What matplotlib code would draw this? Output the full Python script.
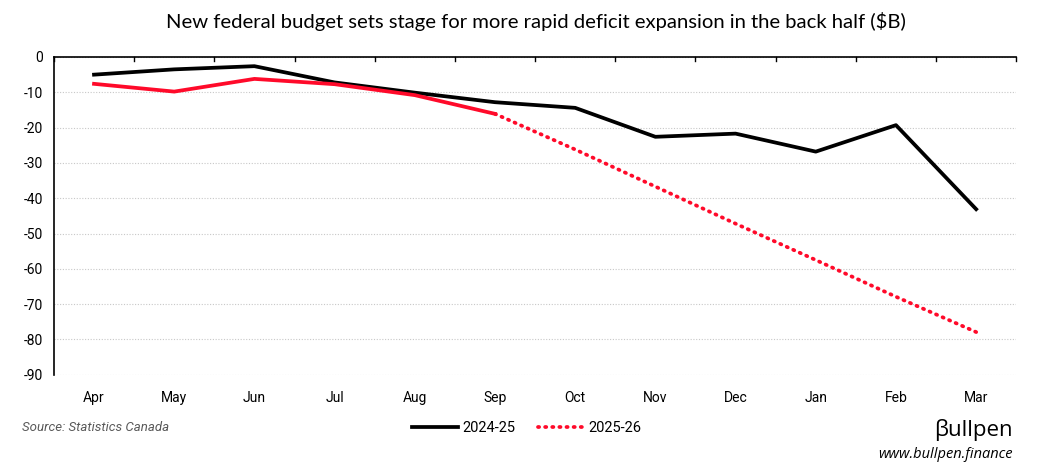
import matplotlib.pyplot as plt

# ==============================
# Data ($B, monthly budget balance)
# ==============================
months = ["Apr", "May", "Jun", "Jul", "Aug", "Sep",
          "Oct", "Nov", "Dec", "Jan", "Feb", "Mar"]
fy2425 = [-5.0, -3.5, -2.6, -7.2, -10.1, -12.8,
          -14.4, -22.6, -21.7, -26.8, -19.3, -43.1]
fy2526_actual = [-7.6, -9.8, -6.2, -7.7, -10.8, -16.1]
fy2526_proj_months = ["Sep", "Oct", "Nov", "Dec", "Jan", "Feb", "Mar"]
fy2526_proj = [-16.1, -26.2, -36.7, -47.2, -57.5, -67.9, -77.9]
yticks = list(range(0, -100, -10))

RED = "#ff0a2a"
NARROW = ["Roboto", "DejaVu Sans"]

fig = plt.figure(figsize=(10.37, 4.75), dpi=100)
ax = fig.add_axes([0.052, 0.211, 0.928, 0.669])

x = list(range(len(months)))
pos = {m: i for i, m in enumerate(months)}

ax.plot(x, fy2425, color="black", lw=2.7, label="2024-25", solid_joinstyle="round")
ax.plot(x[:len(fy2526_actual)], fy2526_actual, color=RED, lw=2.7, solid_joinstyle="round")
ax.plot([pos[m] for m in fy2526_proj_months], fy2526_proj, color=RED, lw=2.7,
        linestyle=(0, (0.3, 1.6)), dash_capstyle="round", label="2025-26")

ax.set_xlim(-0.5, len(months) - 0.5)
ax.set_ylim(-90, 0)
ax.set_yticks(yticks)
ax.set_yticklabels([str(v) for v in yticks], family=NARROW, fontsize=10)
ax.tick_params(axis="y", length=0, pad=8)

ax.set_xticks(x)
ax.set_xticklabels(months, family=NARROW, fontsize=10)
ax.tick_params(axis="x", length=0, pad=12)

# category boundary ticks on the top (zero) line
for b in [i + 0.5 for i in range(-1, len(months))]:
    ax.plot([b, b], [0, -1.1], color="black", lw=1, clip_on=False)

ax.grid(axis="y", color="#c8c8c8", linestyle=(0, (1, 1.5)), lw=0.8)
ax.set_axisbelow(True)
for s in ["right", "bottom"]:
    ax.spines[s].set_visible(False)
ax.spines["top"].set_linewidth(1.2)
ax.spines["left"].set_linewidth(1.2)

fig.text(0.517, 0.955, "New federal budget sets stage for more rapid deficit expansion in the back half ($B)",
         ha="center", va="center", fontsize=14.6, family="Lato")

leg = fig.legend(loc="center", bbox_to_anchor=(0.508, 0.099), ncol=2, frameon=False,
                 prop={"family": NARROW, "size": 10.5}, handlelength=3.2,
                 handletextpad=0.3, columnspacing=1.5)

fig.text(0.021, 0.101, "Source: Statistics Canada", fontsize=9.5, style="italic",
         color="#595959", family=NARROW, va="center")
fig.text(0.977, 0.095, "\u03b2ullpen", fontsize=16, ha="right", va="center", family="Open Sans")
fig.text(0.977, 0.043, "www.bullpen.finance", fontsize=10.5, style="italic",
         ha="right", va="center", family="Open Sans")

fig.savefig("out.png", dpi=100)
